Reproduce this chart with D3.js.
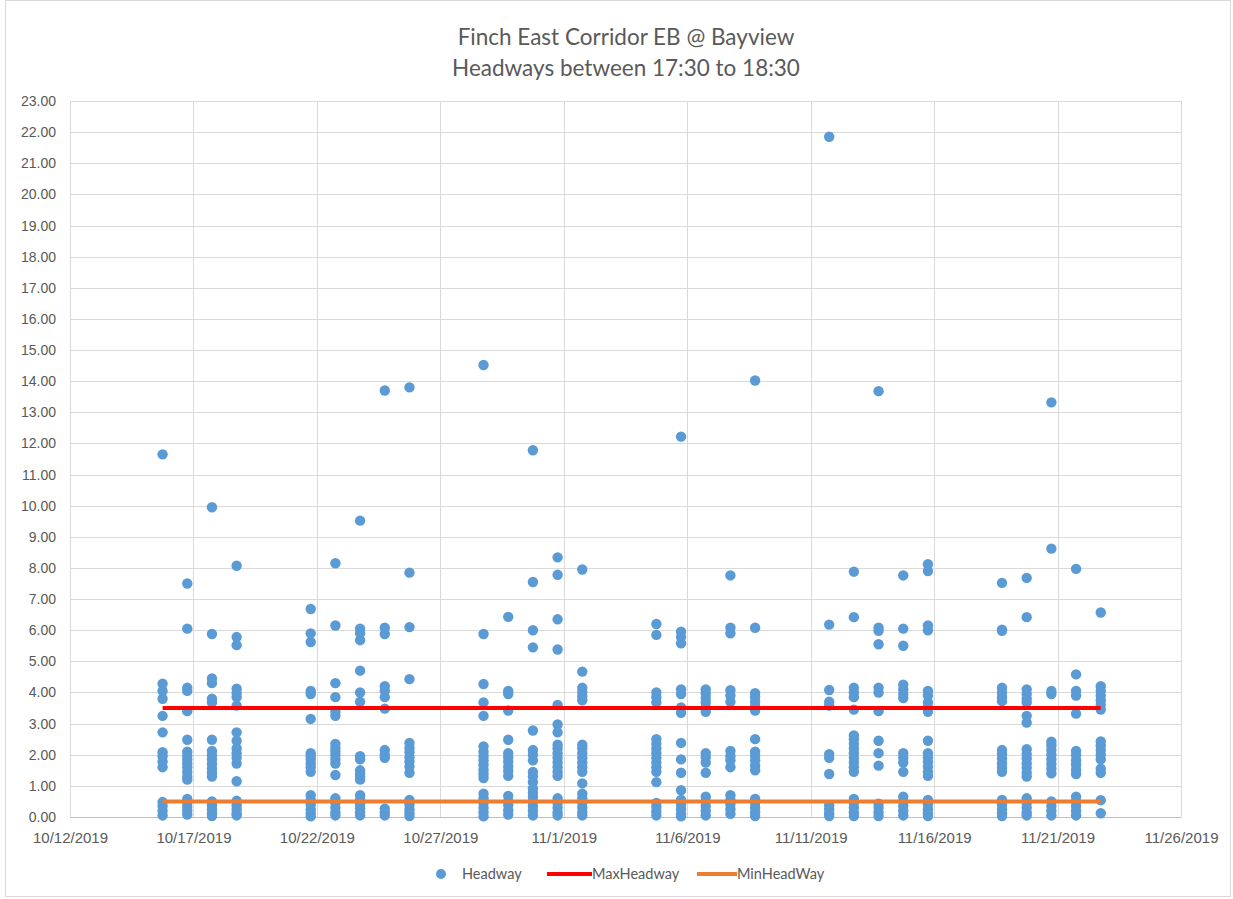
<!DOCTYPE html>
<html>
<head>
<meta charset="utf-8">
<script src="https://cdn.jsdelivr.net/npm/d3@7"></script>
<style>
  body { margin: 0; background: #fff; }
  svg { display: block; font-family: Lato, "Open Sans", sans-serif; }
</style>
</head>
<body>
<div id="chart"></div>
<script>
// service days (weekdays, 10/14 was a holiday)
const dates = [
  "2019-10-15", "2019-10-16", "2019-10-17", "2019-10-18",
  "2019-10-21", "2019-10-22", "2019-10-23", "2019-10-24", "2019-10-25",
  "2019-10-28", "2019-10-29", "2019-10-30", "2019-10-31", "2019-11-01",
  "2019-11-04", "2019-11-05", "2019-11-06", "2019-11-07", "2019-11-08",
  "2019-11-11", "2019-11-12", "2019-11-13", "2019-11-14", "2019-11-15",
  "2019-11-18", "2019-11-19", "2019-11-20", "2019-11-21", "2019-11-22"
];

// headways in minutes, one list per day
const headways = [
  [11.65, 4.28, 4.05, 3.8, 3.25, 2.72, 2.08, 1.95, 1.78, 1.6, 0.48, 0.35, 0.2, 0.05],
  [7.5, 6.05, 4.15, 4.05, 3.4, 2.48, 2.1, 1.97, 1.85, 1.72, 1.6, 1.45, 1.3, 1.2, 0.58, 0.45, 0.32, 0.2, 0.08],
  [9.95, 5.88, 4.45, 4.3, 3.8, 3.68, 2.48, 2.12, 1.98, 1.85, 1.7, 1.55, 1.42, 1.3, 0.5, 0.38, 0.25, 0.12, 0.03],
  [8.07, 5.78, 5.52, 4.12, 3.98, 3.85, 3.58, 2.72, 2.45, 2.2, 2.05, 1.9, 1.72, 1.15, 0.52, 0.38, 0.25, 0.12, 0.05],
  [6.68, 5.9, 5.62, 4.05, 3.95, 3.15, 2.05, 1.95, 1.85, 1.72, 1.6, 1.45, 0.7, 0.55, 0.4, 0.25, 0.12, 0.02],
  [8.15, 6.15, 4.3, 3.85, 3.38, 3.25, 2.35, 2.22, 2.1, 1.98, 1.85, 1.72, 1.35, 0.6, 0.45, 0.3, 0.15, 0.05],
  [9.52, 6.05, 5.9, 5.68, 4.7, 4.0, 3.7, 1.95, 1.85, 1.5, 1.4, 1.3, 1.2, 0.7, 0.55, 0.42, 0.28, 0.15, 0.05],
  [13.7, 6.08, 5.88, 4.2, 4.05, 3.85, 3.48, 2.15, 2.0, 1.9, 0.27, 0.15, 0.05],
  [13.8, 7.85, 6.1, 4.43, 2.38, 2.22, 2.08, 1.92, 1.78, 1.62, 1.42, 0.55, 0.4, 0.25, 0.12, 0.03],
  [14.52, 5.88, 4.27, 3.68, 3.25, 2.27, 2.1, 1.95, 1.82, 1.68, 1.52, 1.38, 1.25, 0.75, 0.6, 0.45, 0.3, 0.15, 0.02],
  [6.43, 4.05, 3.95, 3.42, 2.48, 2.05, 1.92, 1.78, 1.62, 1.48, 1.32, 0.68, 0.52, 0.38, 0.22, 0.08],
  [11.78, 7.55, 6.0, 5.45, 2.78, 2.15, 2.0, 1.82, 1.45, 1.3, 1.12, 0.92, 0.78, 0.65, 0.5, 0.35, 0.2, 0.05],
  [8.34, 7.78, 6.35, 5.38, 3.6, 2.97, 2.72, 2.32, 2.2, 2.05, 1.9, 1.75, 1.6, 1.45, 1.32, 0.6, 0.45, 0.3, 0.15, 0.05],
  [7.95, 4.67, 4.15, 4.02, 3.88, 3.75, 2.32, 2.2, 2.05, 1.9, 1.75, 1.6, 1.45, 1.08, 0.75, 0.6, 0.45, 0.3, 0.15, 0.05],
  [6.2, 5.85, 4.0, 3.85, 3.68, 2.5, 2.35, 2.2, 2.05, 1.9, 1.75, 1.6, 1.45, 1.12, 0.45, 0.32, 0.18, 0.05],
  [12.22, 5.95, 5.78, 5.58, 4.1, 3.95, 3.52, 3.35, 2.38, 1.85, 1.42, 0.86, 0.55, 0.4, 0.25, 0.1, 0.02],
  [4.1, 3.97, 3.82, 3.68, 3.52, 3.38, 2.05, 1.92, 1.75, 1.42, 0.65, 0.5, 0.35, 0.2, 0.05],
  [7.76, 6.08, 5.9, 4.07, 3.9, 3.7, 2.12, 1.95, 1.82, 1.6, 0.7, 0.55, 0.4, 0.25, 0.1],
  [14.02, 6.08, 3.98, 3.85, 3.7, 3.55, 3.42, 2.5, 2.1, 1.97, 1.82, 1.65, 1.5, 0.58, 0.45, 0.3, 0.15, 0.03],
  [21.85, 6.18, 4.08, 3.7, 3.58, 2.02, 1.9, 1.38, 0.38, 0.25, 0.12, 0.03],
  [7.88, 6.42, 4.15, 4.0, 3.85, 3.45, 2.62, 2.5, 2.35, 2.2, 2.05, 1.9, 1.75, 1.6, 1.45, 0.58, 0.45, 0.3, 0.15, 0.03],
  [13.68, 6.08, 5.98, 5.55, 4.15, 4.0, 3.4, 2.45, 2.05, 1.65, 0.43, 0.3, 0.15, 0.03],
  [7.76, 6.05, 5.5, 4.25, 4.1, 3.95, 3.82, 2.05, 1.9, 1.75, 1.45, 0.65, 0.5, 0.35, 0.2, 0.05],
  [8.12, 7.9, 6.15, 6.0, 4.05, 3.9, 3.68, 3.52, 3.38, 2.45, 2.05, 1.92, 1.78, 1.62, 1.45, 1.32, 0.55, 0.4, 0.25, 0.12, 0.03],
  [7.52, 6.02, 5.98, 4.15, 4.0, 3.85, 3.72, 2.15, 2.02, 1.88, 1.72, 1.58, 1.45, 0.55, 0.4, 0.25, 0.12, 0.03],
  [7.68, 6.42, 4.1, 3.95, 3.8, 3.68, 3.25, 3.03, 2.18, 2.02, 1.88, 1.72, 1.58, 1.42, 1.3, 0.6, 0.45, 0.3, 0.15, 0.05],
  [13.32, 8.62, 4.05, 3.95, 2.42, 2.3, 2.15, 2.0, 1.85, 1.7, 1.55, 1.4, 0.5, 0.35, 0.2, 0.05],
  [7.97, 4.58, 4.05, 3.9, 3.32, 2.12, 1.98, 1.82, 1.68, 1.52, 1.38, 0.65, 0.5, 0.35, 0.2, 0.05],
  [6.57, 4.2, 4.05, 3.9, 3.75, 3.6, 3.45, 2.43, 2.3, 2.15, 2.0, 1.85, 1.55, 1.42, 0.54, 0.12]
];

const maxHeadway = 3.5;
const minHeadway = 0.5;

const xTicks = ["2019-10-12", "2019-10-17", "2019-10-22", "2019-10-27", "2019-11-01",
  "2019-11-06", "2019-11-11", "2019-11-16", "2019-11-21", "2019-11-26"];
const yTicks = d3.range(0, 24, 1);

const title = ["Finch East Corridor EB @ Bayview", "Headways between 17:30 to 18:30"];

const width = 1233, height = 899;
const margin = { top: 101, right: 52, bottom: 82, left: 70 };
const innerW = width - margin.left - margin.right;
const innerH = height - margin.top - margin.bottom;

const parseDay = d3.utcParse("%Y-%m-%d");
const fmt = d3.utcFormat("%-m/%-d/%Y");
const atTime = (s) => d3.utcMinute.offset(parseDay(s), 18 * 60);  // ~18:00 sample

// flatten the points
const points = [];
dates.forEach((d, i) => {
  headways[i].forEach((v) => points.push({ t: atTime(d), v: v }));
});

const x = d3.scaleUtc()
  .domain([parseDay(xTicks[0]), parseDay(xTicks[xTicks.length - 1])])
  .range([0, innerW]);
const y = d3.scaleLinear().domain([0, 23]).range([innerH, 0]);

const svg = d3.select("#chart").append("svg")
  .attr("width", width)
  .attr("height", height);

// chart area border
svg.append("rect")
  .attr("x", 5.5).attr("y", 0.5)
  .attr("width", width - 8).attr("height", height - 3)
  .attr("fill", "#fff")
  .attr("stroke", "#d9d9d9");

svg.append("g")
  .attr("fill", "#595959")
  .attr("font-size", 22.5)
  .attr("text-anchor", "middle")
  .selectAll("text")
  .data(title)
  .join("text")
  .attr("x", 626)
  .attr("y", (d, i) => 45 + i * 31)
  .text((d) => d);

const g = svg.append("g").attr("transform", `translate(${margin.left},${margin.top})`);

// gridlines
g.append("g")
  .attr("stroke", "#d9d9d9")
  .selectAll("line.h")
  .data(yTicks)
  .join("line")
  .attr("x1", 0).attr("x2", innerW)
  .attr("y1", (d) => Math.round(y(d)) + 0.5)
  .attr("y2", (d) => Math.round(y(d)) + 0.5);

g.append("g")
  .attr("stroke", "#d9d9d9")
  .selectAll("line.v")
  .data(xTicks)
  .join("line")
  .attr("x1", (d) => Math.round(x(parseDay(d))) + 0.5)
  .attr("x2", (d) => Math.round(x(parseDay(d))) + 0.5)
  .attr("y1", 0).attr("y2", innerH);

// axes (labels only, Excel style)
const yAxis = g.append("g")
  .call(d3.axisLeft(y).tickValues(yTicks).tickFormat(d3.format(".2f")).tickSize(0).tickPadding(14));
yAxis.select(".domain").remove();
yAxis.selectAll("text").attr("fill", "#595959").attr("font-size", 14);

const xAxis = g.append("g")
  .attr("transform", `translate(0,${innerH})`)
  .call(d3.axisBottom(x).tickValues(xTicks.map(parseDay)).tickFormat(fmt).tickSize(0).tickPadding(15));
xAxis.select(".domain").attr("stroke", "#bfbfbf");
xAxis.selectAll("text").attr("fill", "#595959").attr("font-size", 15);

// reference lines over the data span
const tFirst = atTime(dates[0]);
const tLast = atTime(dates[dates.length - 1]);
const refLine = d3.line().x((d) => x(d[0])).y((d) => y(d[1]));

g.append("g")
  .attr("fill", "#5b9bd5")
  .selectAll("circle")
  .data(points)
  .join("circle")
  .attr("cx", (d) => x(d.t))
  .attr("cy", (d) => y(d.v))
  .attr("r", 5.2);

g.append("path")
  .datum([[tFirst, maxHeadway], [tLast, maxHeadway]])
  .attr("d", refLine)
  .attr("stroke", "#ff0000")
  .attr("stroke-width", 4)
  .attr("fill", "none");

g.append("path")
  .datum([[tFirst, minHeadway], [tLast, minHeadway]])
  .attr("d", refLine)
  .attr("stroke", "#ed7d31")
  .attr("stroke-width", 4)
  .attr("fill", "none");

// legend
const legend = svg.append("g")
  .attr("font-size", 14.5)
  .attr("fill", "#595959");
legend.append("circle").attr("cx", 441).attr("cy", 874).attr("r", 5).attr("fill", "#5b9bd5");
legend.append("text").attr("x", 462).attr("y", 879).text("Headway");
legend.append("line").attr("x1", 547).attr("x2", 592).attr("y1", 874).attr("y2", 874)
  .attr("stroke", "#ff0000").attr("stroke-width", 4);
legend.append("text").attr("x", 592).attr("y", 879).text("MaxHeadway");
legend.append("line").attr("x1", 697).attr("x2", 737).attr("y1", 874).attr("y2", 874)
  .attr("stroke", "#ed7d31").attr("stroke-width", 4);
legend.append("text").attr("x", 737).attr("y", 879).text("MinHeadWay");
</script>
</body>
</html>
